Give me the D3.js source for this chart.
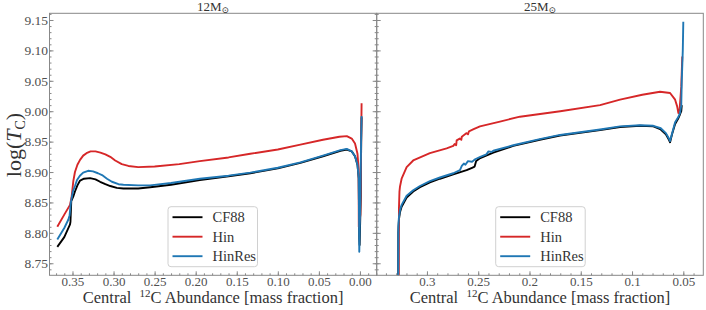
<!DOCTYPE html>
<html>
<head>
<meta charset="utf-8">
<script src="https://cdn.jsdelivr.net/npm/d3@7"></script>
<style>
  body { margin: 0; background: #fff; }
  svg { display: block; }
  svg text { font-family: "Liberation Serif", "DejaVu Serif", serif; }
</style>
</head>
<body>
<div id="chart"></div>
<script>
// series names / colours (legend order)
var series = ['CF88', 'Hin', 'HinRes'];
var colors = ['#000000', '#d62728', '#1f77b4'];
var panelTitles = ['12', '25'];

var yTicks = [8.75, 8.80, 8.85, 8.90, 8.95, 9.00, 9.05, 9.10, 9.15];
var xTicks12 = [0.35, 0.30, 0.25, 0.20, 0.15, 0.10, 0.05, 0.00];
var xTicks25 = [0.3, 0.25, 0.2, 0.15, 0.1, 0.05];

// 12 Msun: [central 12C, log Tc]
var cf88_12 = [[0.3685,8.777],[0.360,8.793],[0.353,8.814],[0.3525,8.818],[0.3515,8.852],[0.349,8.860],
  [0.347,8.868],[0.344,8.878],[0.3408,8.886],[0.336,8.889],[0.3286,8.890],[0.322,8.888],[0.3164,8.884],
  [0.310,8.880],[0.304,8.877],[0.296,8.874],[0.288,8.873],[0.270,8.873],[0.2555,8.875],[0.230,8.879],
  [0.195,8.887],[0.160,8.893],[0.1335,8.898],[0.100,8.906],[0.0725,8.915],[0.045,8.926],[0.0237,8.935],
  [0.016,8.937],[0.010,8.934],[0.006,8.926],[0.003,8.912],[0.0015,8.890],[0.0008,8.790],[0.0004,8.780],
  [-0.001,8.86],[-0.0015,8.95],[-0.002,8.99]];
var hin_12 = [[0.3685,8.810],[0.360,8.830],[0.353,8.846],[0.351,8.860],[0.349,8.885],[0.347,8.900],
  [0.344,8.912],[0.3408,8.920],[0.337,8.927],[0.333,8.931],[0.328,8.934],[0.322,8.934],[0.316,8.932],
  [0.310,8.929],[0.304,8.925],[0.298,8.919],[0.290,8.913],[0.282,8.910],[0.270,8.908],[0.250,8.909],
  [0.220,8.913],[0.195,8.918],[0.160,8.924],[0.1335,8.930],[0.100,8.937],[0.0725,8.945],[0.045,8.953],
  [0.025,8.958],[0.016,8.959],[0.010,8.955],[0.006,8.947],[0.003,8.930],[0.0016,8.905],[0.0014,8.810],
  [-0.0005,8.83],[-0.0015,8.95],[-0.002,9.013]];
var hinres_12 = [[0.3685,8.789],[0.360,8.808],[0.355,8.822],[0.3535,8.829],[0.352,8.850],[0.3495,8.868],
  [0.347,8.877],[0.3445,8.887],[0.341,8.894],[0.337,8.899],[0.331,8.902],[0.325,8.901],[0.319,8.898],
  [0.314,8.895],[0.308,8.889],[0.302,8.884],[0.294,8.880],[0.288,8.879],[0.270,8.878],[0.2555,8.878],
  [0.230,8.882],[0.195,8.889],[0.160,8.894],[0.1335,8.899],[0.100,8.907],[0.0725,8.916],[0.045,8.927],
  [0.0237,8.936],[0.016,8.938],[0.010,8.934],[0.006,8.926],[0.003,8.912],[0.0015,8.890],[0.0008,8.769],
  [-0.0005,8.86],[-0.0015,8.96],[-0.002,8.992]];

// 25 Msun
var cf88_25 = [[0.3281,8.70],[0.3279,8.80],[0.3273,8.822],[0.3263,8.834],[0.3247,8.843],[0.3198,8.858],
  [0.3134,8.868],[0.3068,8.875],[0.2971,8.883],[0.2873,8.889],[0.2743,8.896],[0.2613,8.903],[0.2560,8.907],
  [0.2535,8.909],[0.2520,8.918],[0.2480,8.923],[0.2353,8.932],[0.2158,8.943],[0.1900,8.953],[0.1702,8.960],
  [0.1312,8.969],[0.1117,8.974],[0.0922,8.976],[0.0792,8.975],[0.0720,8.970],[0.0670,8.962],[0.0640,8.953],
  [0.0629,8.949],[0.0610,8.962],[0.0580,8.979],[0.0550,8.988],[0.0532,8.995],[0.0520,9.000],[0.0515,9.01]];
var hin_25 = [[0.3275,8.70],[0.3273,8.84],[0.3268,8.868],[0.3263,8.876],[0.3247,8.889],[0.3198,8.908],
  [0.3134,8.919],[0.2971,8.931],[0.2808,8.939],[0.2743,8.943],[0.2730,8.946],[0.2715,8.944],[0.2710,8.952],
  [0.2680,8.955],[0.2665,8.953],[0.2660,8.958],[0.2613,8.964],[0.2600,8.962],[0.2590,8.967],[0.2550,8.970],
  [0.2483,8.975],[0.2288,8.983],[0.2093,8.991],[0.1700,9.000],[0.1312,9.010],[0.1117,9.019],[0.0900,9.027],
  [0.0727,9.032],[0.0629,9.030],[0.0580,9.019],[0.0560,9.008],[0.0548,8.997],[0.0535,9.005],[0.0520,9.040],
  [0.0510,9.09]];
var hinres_25 = [[0.3281,8.70],[0.3279,8.81],[0.3273,8.826],[0.3263,8.837],[0.3247,8.846],[0.3198,8.861],
  [0.3134,8.870],[0.3068,8.877],[0.2971,8.885],[0.2873,8.891],[0.2743,8.898],[0.2678,8.903],[0.2660,8.910],
  [0.2640,8.914],[0.2625,8.912],[0.2600,8.918],[0.2560,8.917],[0.2530,8.921],[0.2480,8.925],[0.2420,8.929],
  [0.2400,8.934],[0.2370,8.933],[0.2353,8.935],[0.2158,8.944],[0.1900,8.954],[0.1702,8.961],[0.1312,8.970],
  [0.1117,8.975],[0.0922,8.977],[0.0792,8.976],[0.0720,8.972],[0.0670,8.964],[0.0640,8.955],[0.0629,8.951],
  [0.0610,8.963],[0.0580,8.982],[0.0550,8.990],[0.0532,8.997],[0.0520,9.010],[0.0515,9.05],[0.0505,9.10],
  [0.0500,9.147]];

var width = 706, height = 310;
var plotTop = 13.3, plotBottom = 275.3;
var spine = '#888', tickCol = '#505050', labelCol = '#333';
var serif = '"Liberation Serif", "DejaVu Serif", serif';

var svg = d3.select('#chart').append('svg')
  .attr('width', width)
  .attr('height', height);

var y = d3.scaleLinear().domain([8.7302, 9.161]).range([plotBottom, plotTop]);

var panels = [
  {x: d3.scaleLinear().domain([0.378, -0.0204]).range([49.5, 376.7]), ticks: xTicks12,
   fmt: d3.format('.2f'), data: [cf88_12, hin_12, hinres_12], legendX: 168},
  {x: d3.scaleLinear().domain([0.349, 0.0305]).range([376.7, 703.3]), ticks: xTicks25,
   fmt: function(d) { return String(+d.toFixed(2)); }, data: [cf88_25, hin_25, hinres_25], legendX: 495.7}
];

function minorRange(a, b) {
  var out = [];
  for (var i = Math.ceil(a * 100); i <= Math.floor(b * 100); i++) out.push(i / 100);
  return out;
}

function styleAxis(s) {
  s.attr('font-family', serif);
  s.select('.domain').remove();
  s.selectAll('line').attr('stroke', spine);
  s.selectAll('text').attr('fill', tickCol).attr('font-size', 13);
}

panels.forEach(function(p, pi) {
  var x = p.x;
  var x0 = x.range()[0], x1 = x.range()[1];
  var g = svg.append('g');

  g.append('clipPath').attr('id', 'clip' + pi)
    .append('rect').attr('x', x0).attr('y', plotTop).attr('width', x1 - x0).attr('height', plotBottom - plotTop);

  // x ticks (inward)
  var d = x.domain();
  var lo = Math.min(d[0], d[1]), hi = Math.max(d[0], d[1]);
  g.append('g').attr('transform', 'translate(0,' + plotBottom + ')')
    .call(d3.axisBottom(x).tickValues(minorRange(lo, hi)).tickFormat('').tickSize(-2))
    .call(styleAxis);
  g.append('g').attr('transform', 'translate(0,' + plotBottom + ')')
    .call(d3.axisBottom(x).tickValues(p.ticks).tickFormat(p.fmt).tickSize(-4).tickPadding(1))
    .call(styleAxis);

  // y ticks on the left side of each panel (inward)
  var yMinor = minorRange(8.731, 9.16);
  g.append('g').attr('transform', 'translate(' + x0 + ',0)')
    .call(d3.axisLeft(y).tickValues(yMinor).tickFormat('').tickSize(-2))
    .call(styleAxis);
  g.append('g').attr('transform', 'translate(' + x0 + ',0)')
    .call(d3.axisLeft(y).tickValues(yTicks).tickFormat(pi === 0 ? d3.format('.2f') : '').tickSize(-4).tickPadding(1.5))
    .call(styleAxis)
    .call(function(s) { s.selectAll('text').attr('font-size', 13.5); });
  if (pi === 0) {
    g.append('g').attr('transform', 'translate(' + x1 + ',0)')
      .call(d3.axisRight(y).tickValues(yMinor).tickFormat('').tickSize(-2))
      .call(styleAxis);
    g.append('g').attr('transform', 'translate(' + x1 + ',0)')
      .call(d3.axisRight(y).tickValues(yTicks).tickFormat('').tickSize(-4))
      .call(styleAxis);
  }

  // curves
  var line = d3.line().x(function(v) { return x(v[0]); }).y(function(v) { return y(v[1]); });
  g.append('g').attr('clip-path', 'url(#clip' + pi + ')')
    .selectAll('path').data(p.data).enter().append('path')
    .attr('d', line)
    .attr('fill', 'none')
    .attr('stroke', function(v, i) { return colors[i]; })
    .attr('stroke-width', 1.9)
    .attr('stroke-linejoin', 'round');

  // frame
  g.append('rect').attr('x', x0).attr('y', plotTop).attr('width', x1 - x0).attr('height', plotBottom - plotTop)
    .attr('fill', 'none').attr('stroke', spine).attr('stroke-width', 1);

  // title
  var t = g.append('text').attr('x', (x0 + x1) / 2).attr('y', 10.5).attr('text-anchor', 'middle')
    .attr('font-size', 13).attr('fill', labelCol);
  t.append('tspan').text(panelTitles[pi] + 'M');
  t.append('tspan').attr('font-size', 9).attr('dy', 2).text('\u2299');

  // x label
  var xl = g.append('text').attr('x', (x0 + x1) / 2).attr('y', 303).attr('text-anchor', 'middle')
    .attr('font-size', 16.5).attr('fill', labelCol);
  xl.append('tspan').text('Central\u00a0\u00a0');
  xl.append('tspan').attr('font-size', 11).attr('dy', -6).text('12');
  xl.append('tspan').attr('dy', 6).text('C Abundance [mass fraction]');

  // legend
  var lx = p.legendX, ly = 206.7;
  var lg = g.append('g');
  lg.append('rect').attr('x', lx).attr('y', ly).attr('width', 89.5).attr('height', 60).attr('rx', 3)
    .attr('fill', '#fff').attr('fill-opacity', 0.8).attr('stroke', '#d0d0d0');
  series.forEach(function(name, i) {
    var yy = ly + 10.5 + i * 19.5;
    lg.append('line').attr('x1', lx + 4.5).attr('x2', lx + 34.5).attr('y1', yy).attr('y2', yy)
      .attr('stroke', colors[i]).attr('stroke-width', 1.9);
    lg.append('text').attr('x', lx + 44.5).attr('y', yy + 5).attr('font-size', 14.5).attr('fill', labelCol)
      .text(name);
  });
});

// y label
var yl = svg.append('text').attr('transform', 'translate(21,145) rotate(-90)')
  .attr('text-anchor', 'middle').attr('font-size', 22).attr('fill', labelCol);
yl.append('tspan').text('log(');
yl.append('tspan').attr('font-style', 'italic').text('T');
yl.append('tspan').attr('font-size', 14).attr('dy', 4).text('C');
yl.append('tspan').attr('dy', -4).text(')');
</script>
</body>
</html>
